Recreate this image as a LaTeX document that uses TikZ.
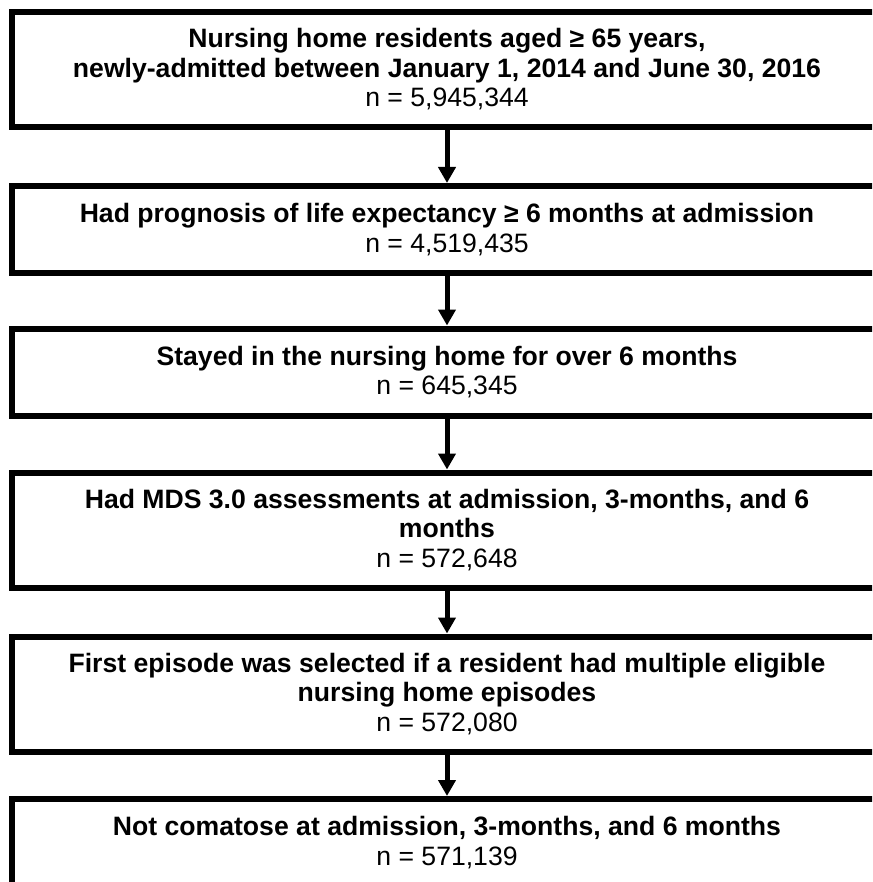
\documentclass[tikz,border=0pt]{standalone}
\usepackage{fontspec}
\setmainfont{Liberation Sans}
\usepackage{tikz}
\usetikzlibrary{arrows.meta,positioning}
\definecolor{fcLine}{RGB}{0,0,0}
\tikzset{
  flowBox/.style={draw=fcLine, line width=6pt, rectangle, inner sep=0pt,
    minimum width=870pt, align=center,
    font=\fontsize{26.6}{29.5}\selectfont},
  tallBox/.style={flowBox, minimum height=115pt},
  lowBox/.style={flowBox, minimum height=87pt},
  flowArrow/.style={draw=fcLine, line width=5pt,
    -{Triangle[width=17pt,length=16pt]}}
}
\begin{document}
\begin{tikzpicture}[x=1pt, y=-1pt]
\clip (0,0) rectangle (872,882);
\fill[white] (0,0) rectangle (872,882);

% boxes
\node[tallBox] (adm) at (447,69.5)
  {\textbf{Nursing home residents aged ≥ 65 years,}\\
   \textbf{newly-admitted between January 1, 2014 and June 30, 2016}\\
   n = 5,945,344};
\node[lowBox] (prog) at (447,229.5)
  {\textbf{Had prognosis of life expectancy ≥ 6 months at admission}\\
   n = 4,519,435};
\node[lowBox] (stay) at (447,372)
  {\textbf{Stayed in the nursing home for over 6 months}\\
   n = 645,345};
\node[tallBox] (mds) at (447,530)
  {\textbf{Had MDS 3.0 assessments at admission, 3-months, and 6}\\
   \textbf{months}\\
   n = 572,648};
\node[tallBox] (epis) at (447,694)
  {\textbf{First episode was selected if a resident had multiple eligible}\\
   \textbf{nursing home episodes}\\
   n = 572,080};
\node[lowBox] (coma) at (447,842.5)
  {\textbf{Not comatose at admission, 3-months, and 6 months}\\
   n = 571,139};

% arrows
\foreach \a/\b in {adm/prog, prog/stay, stay/mds, mds/epis, epis/coma}
  \draw[flowArrow] (\a.south) -- (\b.north);
\end{tikzpicture}
\end{document}
